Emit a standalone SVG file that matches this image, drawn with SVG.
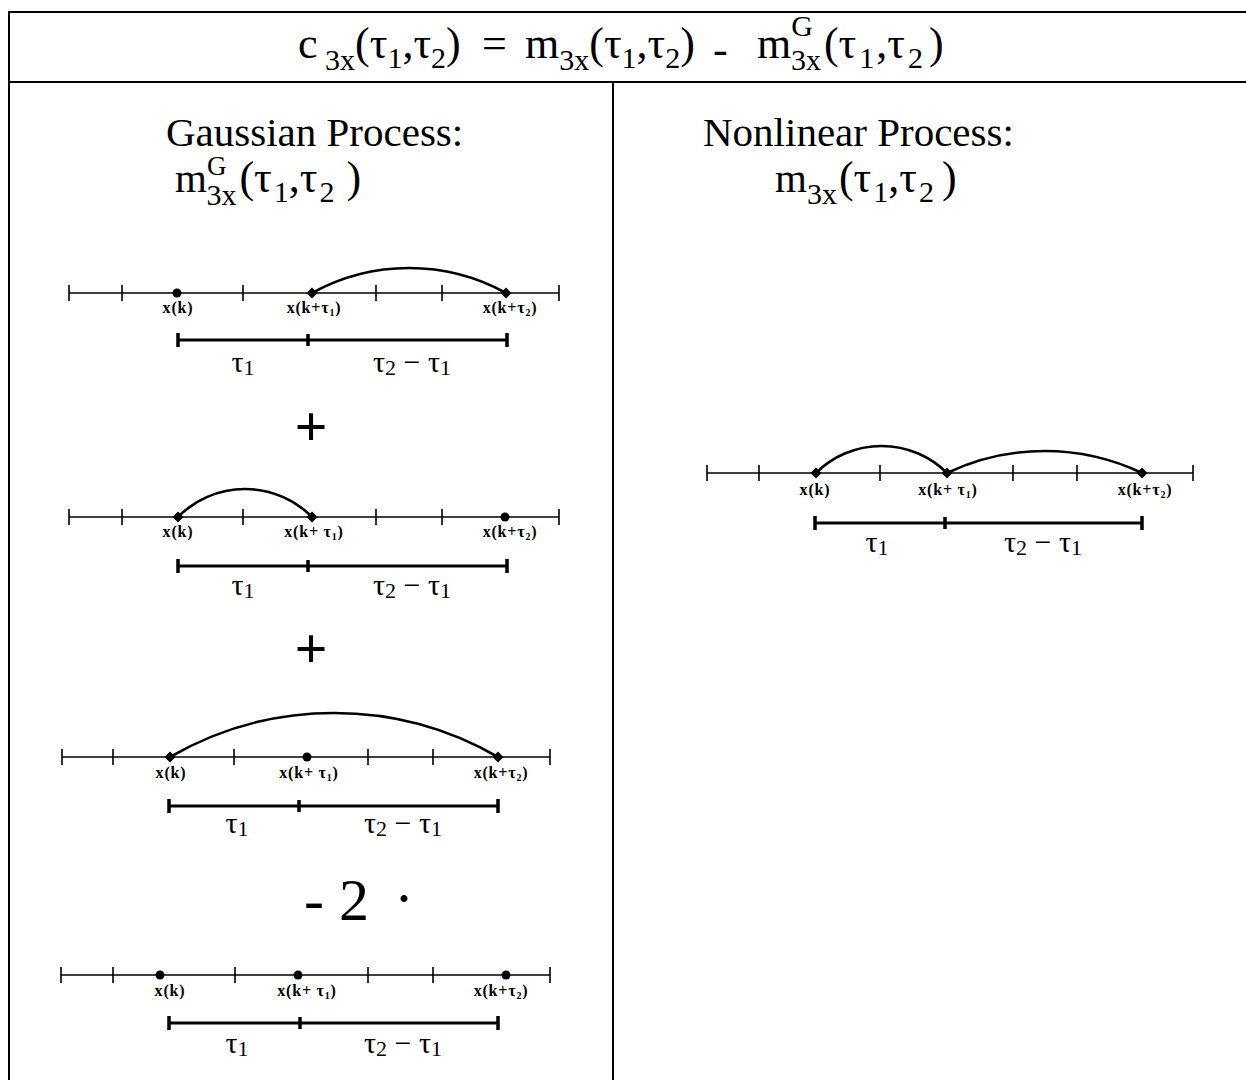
<svg xmlns="http://www.w3.org/2000/svg" width="1246" height="1080" viewBox="0 0 1246 1080">
<defs>
<style>
.frame{stroke:#000;stroke-width:2;fill:none}
.axis{stroke:#000;stroke-width:1.6;fill:none}
.tick{stroke:#000;stroke-width:1.6}
.arc{stroke:#000;stroke-width:2.6;fill:none}
.br{stroke:#000;stroke-width:3.2}
.brt{stroke:#000;stroke-width:3.5}
.big{font-family:"Liberation Serif","Times New Roman",serif;font-size:41px;fill:#000}
.ttl{font-family:"Liberation Serif","Times New Roman",serif;font-size:44px;fill:#000}
.lab{font-family:"Liberation Serif","Times New Roman",serif;font-size:16px;font-weight:bold;letter-spacing:0.8px;fill:#000;text-anchor:middle}
.tau{font-family:"Liberation Serif","Times New Roman",serif;font-size:30px;fill:#000;text-anchor:middle}
.op{font-family:"Liberation Serif","Times New Roman",serif;fill:#000}
</style>
<circle id="dot" r="4.5" fill="#000"/>
<polygon id="dia" points="0,-5.5 5.5,0 0,5.5 -5.5,0" fill="#000"/>
</defs>
<rect width="1246" height="1080" fill="#fff"/>

<g id="frame">
<line class="frame" x1="8" y1="12" x2="1246" y2="12"/>
<line class="frame" x1="9" y1="12" x2="9" y2="1080"/>
<line class="frame" x1="9" y1="82" x2="1246" y2="82"/>
<line class="frame" x1="613" y1="82" x2="613" y2="1080"/>
</g>

<g id="title">
<text class="ttl" x="298" y="58">c<tspan font-size="30" dy="12"> 3x</tspan><tspan dy="-12">(τ</tspan><tspan font-size="30" dy="10">1</tspan><tspan dy="-10">,τ</tspan><tspan font-size="30" dy="10">2</tspan><tspan dy="-10">)</tspan><tspan x="482">=</tspan><tspan x="525">m</tspan><tspan font-size="30" dy="12">3x</tspan><tspan dy="-12">(τ</tspan><tspan font-size="30" dy="10">1</tspan><tspan dy="-10">,τ</tspan><tspan font-size="30" dy="10">2</tspan><tspan dy="-10">)</tspan><tspan x="713" dy="6">-</tspan><tspan x="757" dy="-6">m</tspan><tspan font-size="30" dy="-22">G</tspan><tspan font-size="30" dx="-22" dy="34">3x</tspan><tspan dx="3" dy="-12">(τ</tspan><tspan font-size="30" dx="3" dy="10">1</tspan><tspan dx="2" dy="-10">,τ</tspan><tspan font-size="30" dx="3" dy="10">2</tspan><tspan dx="6" dy="-10">)</tspan></text>
</g>

<g id="gaussian-header">
<text class="big" x="166" y="146">Gaussian Process:</text>
<text class="big" x="175" y="192">m<tspan font-size="27" dy="-17">G</tspan><tspan font-size="30" dx="-20" dy="30">3x</tspan><tspan dx="3" dy="-13" font-size="44">(τ</tspan><tspan font-size="30" dx="2" dy="10">1</tspan><tspan font-size="44" dy="-10">,τ</tspan><tspan font-size="30" dx="2" dy="10">2</tspan><tspan font-size="44" dx="12" dy="-10">)</tspan></text>
</g>

<g id="nonlinear-header">
<text class="big" x="703" y="146">Nonlinear Process:</text>
<text class="big" x="775" y="192">m<tspan font-size="30" dy="12">3x</tspan><tspan font-size="44" dx="2" dy="-12">(τ</tspan><tspan font-size="30" dx="2" dy="10">1</tspan><tspan font-size="44" dy="-10">,τ</tspan><tspan font-size="30" dx="2" dy="10">2</tspan><tspan font-size="44" dx="8" dy="-10">)</tspan></text>
</g>

<!-- Row 1 -->
<g id="g-row1">
<line class="axis" x1="69" y1="293" x2="559" y2="293"/>
<path class="tick" d="M69,285V301M122,285V301M243,285V301M376,285V301M442,285V301M559,285V301"/>
<use href="#dot" x="177" y="293"/>
<use href="#dia" x="312" y="293"/>
<use href="#dia" x="506" y="293"/>
<text class="lab" x="178" y="313">x(k)</text>
<text class="lab" x="314" y="313">x(k+τ<tspan font-size="10" dy="3">1</tspan><tspan dy="-3">)</tspan></text>
<text class="lab" x="510" y="313">x(k+τ<tspan font-size="10" dy="3">2</tspan><tspan dy="-3">)</tspan></text>
<path class="br" d="M178,340H507"/>
<path class="brt" d="M178,333V347M308,334V346M507,333V347"/>
<text class="tau" x="243" y="372">τ<tspan font-size="22" dy="3">1</tspan></text>
<text class="tau" x="412" y="372">τ<tspan font-size="22" dy="3">2</tspan><tspan dy="-3"> − τ</tspan><tspan font-size="22" dy="3">1</tspan></text>
</g>

<g id="plus1"><text class="op" x="311" y="446" font-size="58" font-weight="bold" text-anchor="middle">+</text></g>

<!-- Row 2 -->
<g id="g-row2">
<line class="axis" x1="69" y1="517" x2="559" y2="517"/>
<path class="tick" d="M69,509V525M122,509V525M243,509V525M376,509V525M442,509V525M559,509V525"/>
<use href="#dia" x="178" y="517"/>
<use href="#dia" x="312" y="517"/>
<use href="#dot" x="505" y="517"/>
<text class="lab" x="178" y="537">x(k)</text>
<text class="lab" x="314" y="537">x(k+ τ<tspan font-size="10" dy="3">1</tspan><tspan dy="-3">)</tspan></text>
<text class="lab" x="510" y="537">x(k+τ<tspan font-size="10" dy="3">2</tspan><tspan dy="-3">)</tspan></text>
<path class="br" d="M178,566H507"/>
<path class="brt" d="M178,559V573M308,560V572M507,559V573"/>
<text class="tau" x="243" y="595">τ<tspan font-size="22" dy="3">1</tspan></text>
<text class="tau" x="412" y="595">τ<tspan font-size="22" dy="3">2</tspan><tspan dy="-3"> − τ</tspan><tspan font-size="22" dy="3">1</tspan></text>
</g>

<g id="plus2"><text class="op" x="311" y="668" font-size="58" font-weight="bold" text-anchor="middle">+</text></g>

<!-- Row 3 -->
<g id="g-row3">
<line class="axis" x1="62" y1="757" x2="550" y2="757"/>
<path class="tick" d="M62,749V765M113,749V765M234,749V765M368,749V765M433,749V765M550,749V765"/>
<use href="#dia" x="170" y="757"/>
<use href="#dot" x="307" y="757"/>
<use href="#dia" x="498" y="757"/>
<text class="lab" x="171" y="778">x(k)</text>
<text class="lab" x="309" y="778">x(k+ τ<tspan font-size="10" dy="3">1</tspan><tspan dy="-3">)</tspan></text>
<text class="lab" x="501" y="778">x(k+τ<tspan font-size="10" dy="3">2</tspan><tspan dy="-3">)</tspan></text>
<path class="br" d="M169,806H498"/>
<path class="brt" d="M169,799V813M299,800V812M498,799V813"/>
<text class="tau" x="237" y="833">τ<tspan font-size="22" dy="3">1</tspan></text>
<text class="tau" x="403" y="833">τ<tspan font-size="22" dy="3">2</tspan><tspan dy="-3"> − τ</tspan><tspan font-size="22" dy="3">1</tspan></text>
</g>

<g id="minus2">
<text class="op" x="304" y="920" font-size="60">- 2</text>
<text class="op" x="404" y="918" font-size="60" text-anchor="middle">·</text>
</g>

<!-- Row 4 -->
<g id="g-row4">
<line class="axis" x1="61" y1="975" x2="550" y2="975"/>
<path class="tick" d="M61,967V983M113,967V983M235,967V983M368,967V983M433,967V983M550,967V983"/>
<use href="#dot" x="160" y="975"/>
<use href="#dot" x="298" y="975"/>
<use href="#dot" x="506" y="975"/>
<text class="lab" x="170" y="996">x(k)</text>
<text class="lab" x="307" y="996">x(k+ τ<tspan font-size="10" dy="3">1</tspan><tspan dy="-3">)</tspan></text>
<text class="lab" x="501" y="996">x(k+τ<tspan font-size="10" dy="3">2</tspan><tspan dy="-3">)</tspan></text>
<path class="br" d="M169,1023H498"/>
<path class="brt" d="M169,1016V1030M300,1017V1029M498,1016V1030"/>
<text class="tau" x="237" y="1053">τ<tspan font-size="22" dy="3">1</tspan></text>
<text class="tau" x="403" y="1053">τ<tspan font-size="22" dy="3">2</tspan><tspan dy="-3"> − τ</tspan><tspan font-size="22" dy="3">1</tspan></text>
</g>

<!-- Right -->
<g id="n-row">
<line class="axis" x1="707" y1="473" x2="1193" y2="473"/>
<path class="tick" d="M707,465V481M759,465V481M880,465V481M1013,465V481M1077,465V481M1193,465V481"/>
<use href="#dia" x="816" y="473"/>
<use href="#dia" x="947" y="473"/>
<use href="#dia" x="1142" y="473"/>
<text class="lab" x="815" y="495">x(k)</text>
<text class="lab" x="948" y="495">x(k+ τ<tspan font-size="10" dy="3">1</tspan><tspan dy="-3">)</tspan></text>
<text class="lab" x="1145" y="495">x(k+τ<tspan font-size="10" dy="3">2</tspan><tspan dy="-3">)</tspan></text>
<path class="br" d="M815,523H1142"/>
<path class="brt" d="M815,516V530M945,517V529M1142,516V530"/>
<text class="tau" x="877" y="552">τ<tspan font-size="22" dy="3">1</tspan></text>
<text class="tau" x="1043" y="552">τ<tspan font-size="22" dy="3">2</tspan><tspan dy="-3"> − τ</tspan><tspan font-size="22" dy="3">1</tspan></text>
</g>

<g id="connectors">
<path class="arc" d="M312,293 A200.7,200.7 0 0 1 506,293"/>
<path class="arc" d="M178,517 A94.2,94.2 0 0 1 312,517"/>
<path class="arc" d="M170,757 A327.6,327.6 0 0 1 498,757"/>
<path class="arc" d="M816,473 A92.9,92.9 0 0 1 947,473"/>
<path class="arc" d="M947,473 A227,227 0 0 1 1142,473"/>
</g>
</svg>
